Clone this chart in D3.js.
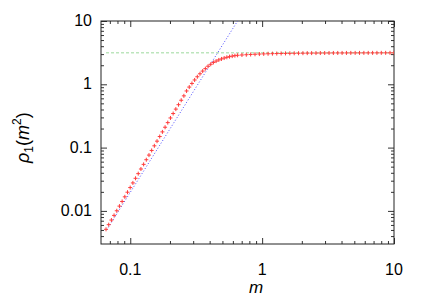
<!DOCTYPE html>
<html><head><meta charset="utf-8">
<script src="https://cdn.jsdelivr.net/npm/d3@7"></script>
<style>html,body{margin:0;padding:0;background:#fff;}svg{display:block;}</style>
</head><body>
<svg id="c" width="425" height="298"></svg>
<script>
// red points: m values and rho_1 values
const mValues = [0.0655,0.06864,0.07194,0.07539,0.07901,0.0828,0.08678,0.09094,0.09531,0.09988,
0.10468,0.1097,0.11497,0.12049,0.12627,0.13233,0.13868,0.14534,0.15232,0.15963,
0.16729,0.17532,0.18373,0.19255,0.20179,0.21148,0.22163,0.23227,0.24342,0.2551,
0.26735,0.28018,0.29363,0.30772,0.32249,0.33797,0.35419,0.3712,0.38901,0.40769,
0.42726,0.44776,0.46925,0.49178,0.51538,0.54012,0.56605,0.59322,0.62169,0.65154,
0.70297,0.7585,0.81842,0.88308,0.95284,1.02811,1.10933,1.19697,1.29153,1.39356,
1.50365,1.62244,1.75061,1.88891,2.03813,2.19914,2.37287,2.56033,2.7626,2.98085,
3.21634,3.47043,3.74459,4.04041,4.3596,4.70401,5.07563,5.4766,5.90925,6.37608,
6.87979,7.42329,8.00973,8.6425,9.32525,10.0];
const rhoValues = [0.00512,0.00606,0.00717,0.00849,0.01005,0.0119,0.01409,0.01668,0.01974,0.02337,
0.02767,0.03275,0.03878,0.0459,0.05434,0.06433,0.07616,0.09016,0.1067,0.1264,
0.1496,0.1771,0.2097,0.2482,0.2939,0.3453,0.4056,0.4764,0.5598,0.657,
0.785,0.904,1.031,1.170,1.315,1.466,1.618,1.768,1.932,2.073,
2.214,2.326,2.426,2.516,2.598,2.670,2.733,2.787,2.834,2.874,
2.904,2.931,2.958,2.983,3.004,3.021,3.035,3.049,3.060,3.070,
3.077,3.084,3.091,3.097,3.102,3.107,3.111,3.115,3.118,3.121,
3.124,3.126,3.128,3.129,3.131,3.132,3.134,3.135,3.136,3.137,
3.137,3.138,3.139,3.139,3.140,3.140];
// blue dotted power-law line
const blueM = [0.0663, 0.651];
const blueRho = [0.005, 10];
// green dashed asymptote
const greenM = [0.0655, 10];
const greenRho = [3.1416, 3.1416];
// axes
const xDomain = [0.06, 10];
const yDomain = [0.003, 10];
const xTickValues = [0.1, 1, 10];
const xTickLabels = ["0.1", "1", "10"];
const yTickValues = [0.01, 0.1, 1, 10];
const yTickLabels = ["0.01", "0.1", "1", "10"];

const L = 101, R = 394, T = 21, B = 244;
const svg = d3.select("#c");
const x = d3.scaleLog().domain(xDomain).range([L, R]);
const y = d3.scaleLog().domain(yDomain).range([B, T]);
const font = "'Liberation Sans', Arial, sans-serif";

function minorTicks(dom) {
  const out = [];
  for (let k = Math.floor(Math.log10(dom[0])); k <= Math.ceil(Math.log10(dom[1])); k++) {
    for (let j = 2; j <= 9; j++) {
      const v = j * Math.pow(10, k);
      if (v > dom[0] && v < dom[1]) out.push(v);
    }
  }
  return out;
}
const xMinor = minorTicks(xDomain), yMinor = minorTicks(yDomain);

svg.append("defs").append("clipPath").attr("id", "clip")
  .append("rect").attr("x", L).attr("y", T).attr("width", R - L).attr("height", B - T);

function drawAxis(gen, tr, vals, size) {
  const g = svg.append("g").attr("transform", tr)
    .call(gen.tickValues(vals).tickSize(size).tickSizeOuter(0).tickFormat(""));
  g.select(".domain").remove();
  g.selectAll("line").attr("stroke", "#333").attr("stroke-width", 1);
}
drawAxis(d3.axisBottom(x), `translate(0,${B})`, xTickValues, -6);
drawAxis(d3.axisBottom(x), `translate(0,${B})`, xMinor, -3);
drawAxis(d3.axisTop(x), `translate(0,${T})`, xTickValues, -6);
drawAxis(d3.axisTop(x), `translate(0,${T})`, xMinor, -3);
drawAxis(d3.axisLeft(y), `translate(${L},0)`, yTickValues, -6);
drawAxis(d3.axisLeft(y), `translate(${L},0)`, yMinor, -3);
drawAxis(d3.axisRight(y), `translate(${R},0)`, yTickValues, -6);
drawAxis(d3.axisRight(y), `translate(${R},0)`, yMinor, -3);

// frame
svg.append("rect").attr("x", L).attr("y", T).attr("width", R - L).attr("height", B - T)
  .attr("fill", "none").attr("stroke", "#222").attr("stroke-width", 1);

// tick labels
xTickValues.forEach((v, i) => {
  svg.append("text").attr("x", x(v)).attr("y", 275).attr("text-anchor", "middle")
    .attr("font-family", font).attr("font-size", 16).attr("fill", "#000").text(xTickLabels[i]);
});
yTickValues.forEach((v, i) => {
  svg.append("text").attr("x", 92).attr("y", y(v) + 5).attr("text-anchor", "end")
    .attr("font-family", font).attr("font-size", 16).attr("fill", "#000").text(yTickLabels[i]);
});

const plot = svg.append("g").attr("clip-path", "url(#clip)");
const line = d3.line().x(d => x(d[0])).y(d => y(d[1]));

// green dashed
plot.append("path").datum(d3.zip(greenM, greenRho)).attr("d", line)
  .attr("fill", "none").attr("stroke", "#9bd89b").attr("stroke-width", 1)
  .attr("stroke-dasharray", "3,2");
// blue dotted
plot.append("path").datum(d3.zip(blueM, blueRho)).attr("d", line)
  .attr("fill", "none").attr("stroke", "#4b4bff").attr("stroke-width", 1)
  .attr("stroke-dasharray", "1,2");
// red plus markers
plot.selectAll("path.pt").data(d3.zip(mValues, rhoValues)).join("path")
  .attr("class", "pt")
  .attr("transform", d => `translate(${x(d[0])},${y(d[1])})`)
  .attr("d", "M-2,0H2M0,-2V2")
  .attr("stroke", "#ff3c3c").attr("stroke-width", 1).attr("fill", "none");

// axis titles
svg.append("text").attr("x", 256).attr("y", 293).attr("text-anchor", "middle")
  .attr("font-family", font).attr("font-size", 17).attr("font-style", "italic").text("m");
const yl = svg.append("text").attr("transform", "translate(29,163) rotate(-90)")
  .attr("text-anchor", "start").attr("font-family", font).attr("font-size", 18);
yl.append("tspan").attr("font-style", "italic").text("ρ");
yl.append("tspan").attr("font-size", 12).attr("dy", 4).text("1");
yl.append("tspan").attr("dy", -4).text("(");
yl.append("tspan").attr("font-style", "italic").text("m");
yl.append("tspan").attr("font-size", 12).attr("dy", -8).text("2");
yl.append("tspan").attr("dy", 8).text(")");
</script>
</body></html>
